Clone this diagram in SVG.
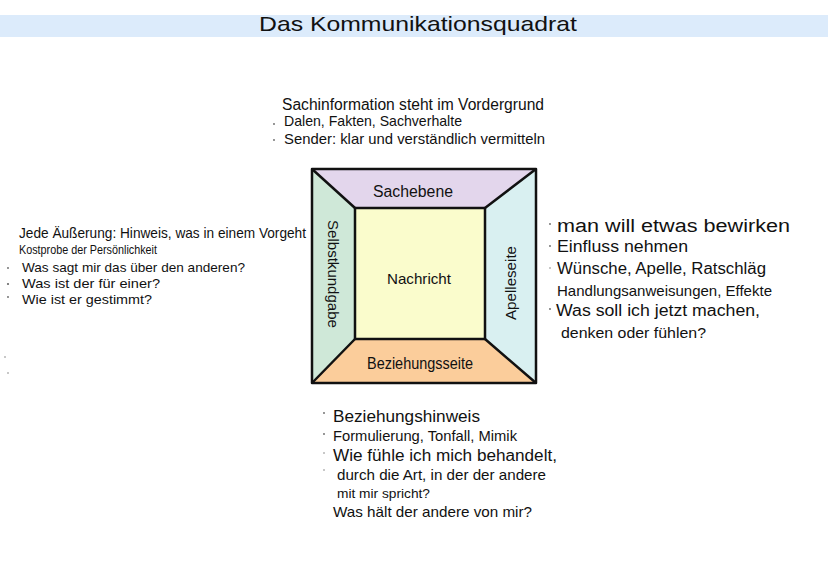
<svg xmlns="http://www.w3.org/2000/svg" width="828" height="586" viewBox="0 0 828 586">
<style>
.t{font-family:"Liberation Sans",Arial,sans-serif;font-size:15px;fill:#111}
.l{font-family:"Liberation Sans",Arial,sans-serif;font-size:16px;fill:#111}
.s{font-family:"Liberation Sans",Arial,sans-serif;font-size:13.5px;fill:#111}
.dot{fill:#666}
.edge{stroke:#111;stroke-width:2.5;fill:none;stroke-linejoin:round}
</style>
<rect width="828" height="586" fill="#ffffff"/>
<g id="title">
<rect x="0" y="15" width="828" height="22" fill="#dcebfb"/>
<text class="t" x="418" y="31" text-anchor="middle" style="font-size:21px" textLength="318" lengthAdjust="spacingAndGlyphs">Das   Kommunikationsquadrat</text>
</g>
<g id="quadrat">
<polygon points="312,169 536,169 485,208 355,208" fill="#e3d6ec"/>
<polygon points="312,169 355,208 355,339 312,383" fill="#cfe8d8"/>
<polygon points="536,169 536,383 485,339 485,208" fill="#d9f0f1"/>
<polygon points="312,383 355,339 485,339 536,383" fill="#fbcd9b"/>
<rect x="355" y="208" width="130" height="131" fill="#fafccc"/>
<rect class="edge" x="312" y="169" width="224" height="214"/>
<rect class="edge" x="355" y="208" width="130" height="131"/>
<path class="edge" d="M312,169 L355,208 M536,169 L485,208 M312,383 L355,339 M536,383 L485,339"/>
<text class="l" x="413" y="197" text-anchor="middle" textLength="80" lengthAdjust="spacingAndGlyphs">Sachebene</text>
<text class="t" x="419" y="284" text-anchor="middle" textLength="64" lengthAdjust="spacingAndGlyphs">Nachricht</text>
<text class="t" transform="translate(328,274) rotate(90)" text-anchor="middle" textLength="108" lengthAdjust="spacingAndGlyphs">Selbstkundgabe</text>
<text class="t" transform="translate(516,283) rotate(-90)" text-anchor="middle" textLength="74" lengthAdjust="spacingAndGlyphs">Apelleseite</text>
<text class="l" x="420" y="369" text-anchor="middle" textLength="106" lengthAdjust="spacingAndGlyphs">Beziehungsseite</text>
</g>
<g id="sachebene-text">
<text class="l" x="282" y="110" textLength="262" lengthAdjust="spacingAndGlyphs">Sachinformation steht im Vordergrund</text>
<circle class="dot" cx="274" cy="124" r="0.9"/>
<circle class="dot" cx="274" cy="140" r="0.9"/>
<text class="t" x="284" y="126" textLength="178" lengthAdjust="spacingAndGlyphs">Dalen, Fakten, Sachverhalte</text>
<text class="t" x="284" y="144" textLength="261" lengthAdjust="spacingAndGlyphs">Sender: klar und verständlich vermitteln</text>
</g>
<g id="selbstkundgabe-text">
<text class="t" x="19" y="238" textLength="287" lengthAdjust="spacingAndGlyphs">Jede Äußerung: Hinweis, was in einem Vorgeht</text>
<text class="s" x="19" y="254" style="font-size:12.5px" textLength="138" lengthAdjust="spacingAndGlyphs">Kostprobe der Persönlichkeit</text>
<circle class="dot" cx="8" cy="268" r="0.9"/>
<circle class="dot" cx="8" cy="284" r="1.1"/>
<circle class="dot" cx="8" cy="297" r="0.9"/>
<text class="s" x="22" y="272" textLength="223" lengthAdjust="spacingAndGlyphs">Was sagt mir das über den anderen?</text>
<text class="s" x="22" y="288" textLength="138" lengthAdjust="spacingAndGlyphs">Was ist der für einer?</text>
<text class="s" x="22" y="304" textLength="130" lengthAdjust="spacingAndGlyphs">Wie ist er gestimmt?</text>
<circle class="dot" cx="5" cy="357" r="0.7"/>
<circle class="dot" cx="8" cy="373" r="0.7"/>
</g>
<g id="appell-text">
<circle class="dot" cx="550" cy="224" r="0.9"/>
<circle class="dot" cx="550" cy="246" r="0.9"/>
<circle class="dot" cx="550" cy="268" r="0.7"/>
<circle class="dot" cx="550" cy="309" r="0.9"/>
<text class="l" x="557" y="232" style="font-size:18px" textLength="233" lengthAdjust="spacingAndGlyphs">man will etwas bewirken</text>
<text class="l" x="557" y="252" textLength="131" lengthAdjust="spacingAndGlyphs">Einfluss nehmen</text>
<text class="l" x="557" y="274" textLength="209" lengthAdjust="spacingAndGlyphs">Wünsche, Apelle, Ratschläg</text>
<text class="t" x="557" y="296" textLength="215" lengthAdjust="spacingAndGlyphs">Handlungsanweisungen, Effekte</text>
<text class="l" x="556" y="316" textLength="204" lengthAdjust="spacingAndGlyphs">Was soll ich jetzt machen,</text>
<text class="t" x="561" y="338" textLength="145" lengthAdjust="spacingAndGlyphs">denken oder fühlen?</text>
</g>
<g id="beziehung-text">
<circle class="dot" cx="324" cy="413" r="0.9"/>
<circle class="dot" cx="324" cy="434" r="0.9"/>
<circle class="dot" cx="324" cy="453" r="0.7"/>
<circle class="dot" cx="324" cy="470" r="0.7"/>
<text class="l" x="333" y="422" textLength="147" lengthAdjust="spacingAndGlyphs">Beziehungshinweis</text>
<text class="t" x="333" y="441" textLength="184" lengthAdjust="spacingAndGlyphs">Formulierung, Tonfall, Mimik</text>
<text class="l" x="333" y="461" textLength="224" lengthAdjust="spacingAndGlyphs">Wie fühle ich mich behandelt,</text>
<text class="t" x="337" y="480" textLength="209" lengthAdjust="spacingAndGlyphs">durch die Art, in der der andere</text>
<text class="t" x="337" y="498" style="font-size:13px" textLength="93" lengthAdjust="spacingAndGlyphs">mit mir spricht?</text>
<text class="t" x="333" y="517" textLength="199" lengthAdjust="spacingAndGlyphs">Was hält der andere von mir?</text>
</g>
</svg>
